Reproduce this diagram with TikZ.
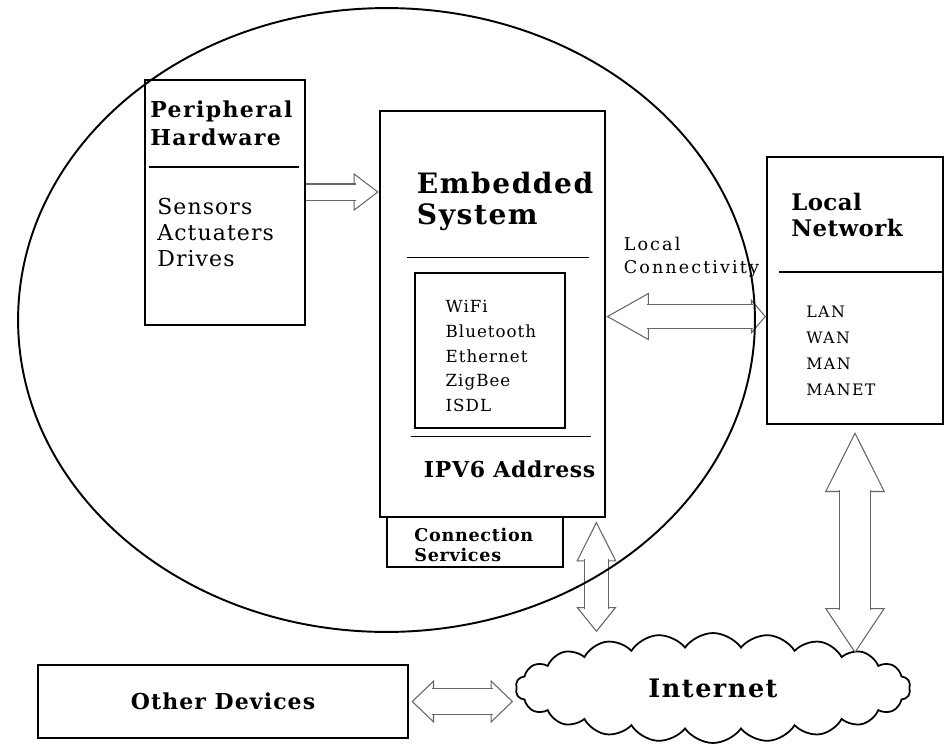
\documentclass[tikz,border=0pt]{standalone}
\usepackage{fontspec}
\setmainfont{DejaVu Serif}
\usetikzlibrary{positioning, fit, arrows.meta, shapes.geometric, shapes.symbols}

\tikzset{
  box/.style={draw, line width=1.2pt, inner sep=0pt},
  divider/.style={line width=1pt},
  title/.style={font=\bfseries\fontsize{12.5}{15.5}\selectfont\addfontfeature{LetterSpace=6.5}, align=left, inner sep=0pt},
  bigtitle/.style={font=\bfseries\fontsize{16}{18}\selectfont\addfontfeature{LetterSpace=5.5}, align=left, inner sep=0pt},
  items/.style={font=\fontsize{12.5}{14.7}\selectfont\addfontfeature{LetterSpace=5}, align=left, inner sep=0pt},
  tiny/.style={font=\fontsize{9.5}{14}\selectfont\addfontfeature{LetterSpace=6}, align=left, inner sep=0pt},
  fatarrow/.style={draw=black!60, line width=0.6pt, double=white},
  shaft/.style n args={3}{draw=black!60, line width=0.6pt, double=white, double distance=#1,
                          arrows=-, shorten <=#2, shorten >=#3}
}

\begin{document}
\begin{tikzpicture}[x=0.02cm, y=-0.02cm]
    \useasboundingbox (0,0) rectangle (946,747);
    \fill[white] (0,0) rectangle (946,747);

    % Peripheral Hardware
    \node[box, fit={(145,80) (305,325)}] (ph) {};
    \node[title, anchor=north west] (phtitle) at ([shift={(6,22)}]ph.north west) {Peripheral\\Hardware};
    \draw[divider] ([shift={(5,88)}]ph.north west) -- ([shift={(-7,88)}]ph.north east);
    \node[items, anchor=north west] (phitems) at ([shift={(13,119)}]ph.north west) {Sensors\\Actuaters\\Drives};

    % Embedded System
    \node[box, line width=1.6pt, fit={(380,111) (605,517)}] (es) {};
    \node[bigtitle, anchor=north west] (estitle) at ([shift={(38,62)}]es.north west) {Embedded\\System};
    \draw[divider] ([shift={(28,148)}]es.north west) -- ([shift={(-17,148)}]es.north east);
    \node[draw, line width=0.8pt, fit={(415,273) (565,428)}, inner sep=0pt] (radio) {};
    \node[tiny, anchor=north west] (radiolist) at ([shift={(31,28)}]radio.north west) {WiFi\\Bluetooth\\Ethernet\\ZigBee\\ISDL};
    \draw[divider] ([shift={(32,-82)}]es.south west) -- ([shift={(-15,-82)}]es.south east);
    \node[title, font=\bfseries\fontsize{12.5}{14}\selectfont\addfontfeature{LetterSpace=3}, anchor=west] (ipv6) at ([shift={(45,-49)}]es.south west) {IPV6 Address};

    % Connection Services
    \node[box, line width=1pt, fit={(387,517) (563,567)}] (cs) {};
    \node[title, font=\bfseries\fontsize{10}{11.3}\selectfont\addfontfeature{LetterSpace=4}, anchor=west] (cstext) at ([shift={(28,3)}]cs.west) {Connection\\Services};

    % Local Network
    \node[box, fit={(767,157) (943,424)}] (ln) {};
    \node[title, font=\bfseries\fontsize{13}{14.7}\selectfont\addfontfeature{LetterSpace=2}, anchor=north west] (lntitle) at ([shift={(25,37)}]ln.north west) {Local\\Network};
    \draw[divider] ([shift={(13,116)}]ln.north west) -- ([shift={(0,116)}]ln.north east);
    \node[tiny, font=\fontsize{9}{14.7}\selectfont\addfontfeature{LetterSpace=9}, anchor=north west] (lnlist) at ([shift={(40,150)}]ln.north west) {LAN\\WAN\\MAN\\MANET};

    \node[tiny, font=\fontsize{10}{13}\selectfont\addfontfeature{LetterSpace=12}, anchor=north west] (lclabel) at ([shift={(17,-77)}]es.east) {Local\\Connectivity};

    % Internet and other devices
    \node[cloud, draw, line width=1pt, cloud puffs=22, cloud puff arc=110, aspect=3.5,
          minimum width=7.9cm, minimum height=2.2cm, inner sep=0pt,
          font=\bfseries\fontsize{14.5}{16}\selectfont\addfontfeature{LetterSpace=6}] (inet) at (713,688) {Internet};
    \node[box, minimum width=7.4cm, minimum height=1.46cm,
          font=\bfseries\fontsize{12.5}{14}\selectfont\addfontfeature{LetterSpace=5}] (od) at (223,701.5) {Other Devices};

    % hollow arrows
    \draw[fatarrow, double distance=0.3cm,
          -{Triangle[open, fill=white, length=0.5cm, width=0.76cm, line width=0.6pt]},
          postaction={shaft={0.3cm}{0cm}{0.46cm}}]
          ([yshift=0.21cm]ph.east) -- ([yshift=0.21cm]ph.east -| es.west);
    \draw[fatarrow, double distance=0.45cm,
          {Triangle[open, fill=white, length=0.85cm, width=0.95cm, line width=0.6pt]}-{Triangle[open, fill=white, length=0.3cm, width=0.7cm, line width=0.6pt]},
          postaction={shaft={0.45cm}{0.81cm}{0.26cm}}]
          ([yshift=-0.05cm]es.east) -- ([yshift=-0.05cm]es.east -| ln.west);
    \draw[fatarrow, double distance=0.45cm,
          {Triangle[open, fill=white, length=0.8cm, width=0.8cm, line width=0.6pt]}-{Triangle[open, fill=white, length=0.5cm, width=0.8cm, line width=0.6pt]},
          postaction={shaft={0.45cm}{0.76cm}{0.46cm}}]
          ([xshift=-0.2cm, yshift=-0.06cm]es.south east) -- ([xshift=-0.2cm]es.south east |- inet.north);
    \draw[fatarrow, double distance=0.6cm,
          {Triangle[open, fill=white, length=1.2cm, width=1.2cm, line width=0.6pt]}-{Triangle[open, fill=white, length=0.9cm, width=1.2cm, line width=0.6pt]},
          postaction={shaft={0.6cm}{1.16cm}{0.86cm}}]
          ([yshift=-0.14cm]ln.south) -- ([yshift=-0.42cm]ln.south |- inet.north);
    \draw[fatarrow, double distance=0.5cm,
          {Triangle[open, fill=white, length=0.45cm, width=0.86cm, line width=0.6pt]}-{Triangle[open, fill=white, length=0.45cm, width=0.86cm, line width=0.6pt]},
          postaction={shaft={0.5cm}{0.41cm}{0.41cm}}]
          ([xshift=0.05cm]od.east) -- ([xshift=-0.05cm]od.east -| inet.west);

    % boundary of the device
    \node[ellipse, draw, line width=1.1pt, minimum width=14.74cm, minimum height=12.48cm] (iot) at (386.5,320) {};
\end{tikzpicture}
\end{document}
